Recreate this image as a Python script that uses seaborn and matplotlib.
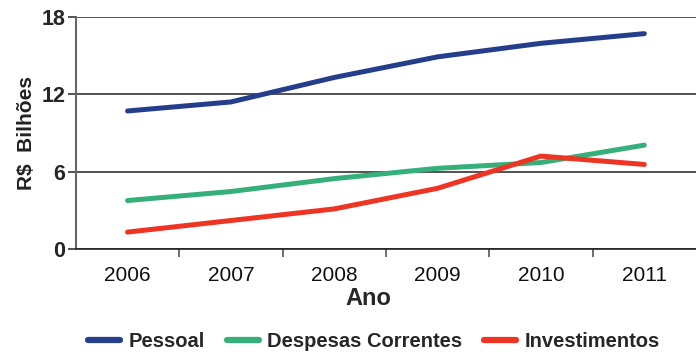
import matplotlib
matplotlib.use("Agg")
import matplotlib.pyplot as plt
import seaborn as sns
import pandas as pd
from matplotlib.ticker import FixedLocator

anos = ["2006", "2007", "2008", "2009", "2010", "2011"]
pessoal = [10.7, 11.4, 13.3, 14.9, 15.95, 16.7]
despesas = [3.75, 4.45, 5.45, 6.25, 6.7, 8.05]
investimentos = [1.3, 2.2, 3.1, 4.7, 7.2, 6.55]
series_names = ["Pessoal", "Despesas Correntes", "Investimentos"]
colors = ["#243E8C", "#35B07A", "#EE3423"]

sns.set_theme(style="white")
plt.rcParams['font.family'] = ['Liberation Sans', 'DejaVu Sans']

rows = []
for name, vals in zip(series_names, [pessoal, despesas, investimentos]):
    for i, v in enumerate(vals):
        rows.append({"pos": i, "Ano": anos[i], "valor": v, "serie": name})
df = pd.DataFrame(rows)

fig = plt.figure(figsize=(6.96, 3.52), dpi=100)
ax = fig.add_axes([0.109, 0.293, 0.891, 0.659])

sns.lineplot(data=df, x="pos", y="valor", hue="serie", palette=colors,
             hue_order=series_names, linewidth=3.6, ax=ax, legend=True,
             solid_capstyle="round")

ax.set_xlim(-0.5, 5.5)
ax.set_ylim(0, 18)
ax.set_yticks([0, 6, 12, 18])
ax.set_yticklabels(["0", "6", "12", "18"], fontsize=15.5, fontweight="bold")
ax.set_xticks(range(6))
ax.set_xticklabels(anos, fontsize=15)
ax.xaxis.set_minor_locator(FixedLocator([0.5, 1.5, 2.5, 3.5, 4.5]))
ax.tick_params(axis="x", which="major", length=0, pad=12, colors="#111111")
ax.tick_params(axis="x", which="minor", length=6, width=1.2, color="#555555", bottom=True)
ax.tick_params(axis="y", which="major", length=6, width=1.2, color="#333333", left=True, pad=1.5)
for lbl in ax.get_xticklabels():
    lbl.set_color("#111111")

ax.grid(axis="y", color="#222222", linewidth=1.1)
ax.set_axisbelow(True)
for s in ["top", "right"]:
    ax.spines[s].set_visible(False)
ax.spines["left"].set_color("#666666")
ax.spines["left"].set_linewidth(1.5)
ax.spines["bottom"].set_color("#222222")
ax.spines["bottom"].set_linewidth(1.2)

ax.set_xlabel("Ano", fontsize=17, fontweight="bold")
ax.xaxis.set_label_coords(0.471, -0.165)
ax.set_ylabel("R$  Bilhões", fontsize=15, fontweight="bold", color="#222222")
ax.yaxis.set_label_coords(-0.064, 0.5)

handles, labels = ax.get_legend_handles_labels()
ax.legend_.remove()
leg = fig.legend(handles, labels, loc="lower center", bbox_to_anchor=(0.537, -0.05),
                 ncol=3, frameon=False, fontsize=14.5, handlelength=1.6,
                 columnspacing=1.1, handletextpad=0.4)
for t in leg.get_texts():
    t.set_fontweight("bold")
for h in leg.legend_handles:
    h.set_linewidth(4.5)

fig.savefig("out.png", dpi=100)
